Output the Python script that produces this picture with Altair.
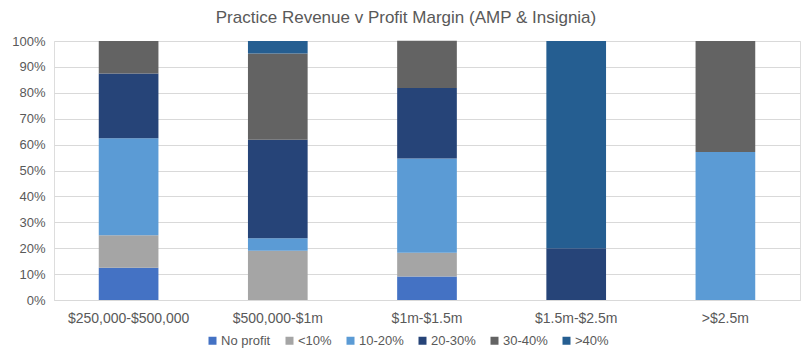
import altair as alt
import pandas as pd

categories = ["$250,000-$500,000", "$500,000-$1m", "$1m-$1.5m", "$1.5m-$2.5m", ">$2.5m"]
series = ["No profit", "<10%", "10-20%", "20-30%", "30-40%", ">40%"]
colors = ["#4472C4", "#A5A5A5", "#5B9BD5", "#264478", "#636363", "#255E91"]

# share of practices in each revenue band (fractions)
no_profit = [0.125, 0.0, 0.091, 0.0, 0.0]
lt10 = [0.125, 0.190, 0.091, 0.0, 0.0]
p10_20 = [0.375, 0.048, 0.364, 0.0, 0.571]
p20_30 = [0.250, 0.381, 0.273, 0.200, 0.0]
p30_40 = [0.125, 0.333, 0.182, 0.0, 0.429]
gt40 = [0.0, 0.048, 0.0, 0.800, 0.0]

values = [no_profit, lt10, p10_20, p20_30, p30_40, gt40]
rows = []
for si, s in enumerate(series):
    for ci, c in enumerate(categories):
        rows.append({"cat": c, "series": s, "idx": si, "val": values[si][ci]})
df = pd.DataFrame(rows)

FONT = "Liberation Sans"
TXT = "#595959"

chart = alt.Chart(df).mark_bar().encode(
    x=alt.X("cat:N", sort=categories, title=None,
            scale=alt.Scale(paddingInner=0.6, paddingOuter=0.3),
            axis=alt.Axis(labelAngle=0, ticks=False, domainColor="#D9D9D9",
                          labelPadding=11, labelFontSize=14, labelColor=TXT,
                          labelFont=FONT, grid=False)),
    y=alt.Y("val:Q", stack="zero", title=None,
            scale=alt.Scale(domain=[0, 1], nice=False),
            axis=alt.Axis(format=".0%", values=[i / 10 for i in range(11)],
                          ticks=False, domain=False, gridColor="#D9D9D9",
                          labelPadding=9, labelFontSize=13, labelColor=TXT,
                          labelFont=FONT)),
    color=alt.Color("series:N", sort=series,
                    scale=alt.Scale(domain=series, range=colors),
                    legend=alt.Legend(title=None, orient="none", direction="horizontal",
                                      legendX=152, legendY=293, symbolType="square",
                                      symbolSize=64, symbolStrokeWidth=0,
                                      labelFontSize=13, labelColor=TXT, labelFont=FONT,
                                      columnPadding=12, labelOffset=2)),
    order=alt.Order("idx:Q", sort="ascending"),
).properties(
    width=746, height=259,
    title=alt.TitleParams("Practice Revenue v Profit Margin (AMP & Insignia)",
                          fontSize=17, color=TXT, font=FONT, fontWeight="normal",
                          anchor="middle", dx=-21, offset=8),
    autosize=alt.AutoSizeParams(type="none"),
    padding={"left": 46, "top": 33, "right": 4, "bottom": 51},
).configure_view(stroke=None).configure(background="white")

chart.save("out.html", embed_options={"renderer": "svg", "actions": False})
